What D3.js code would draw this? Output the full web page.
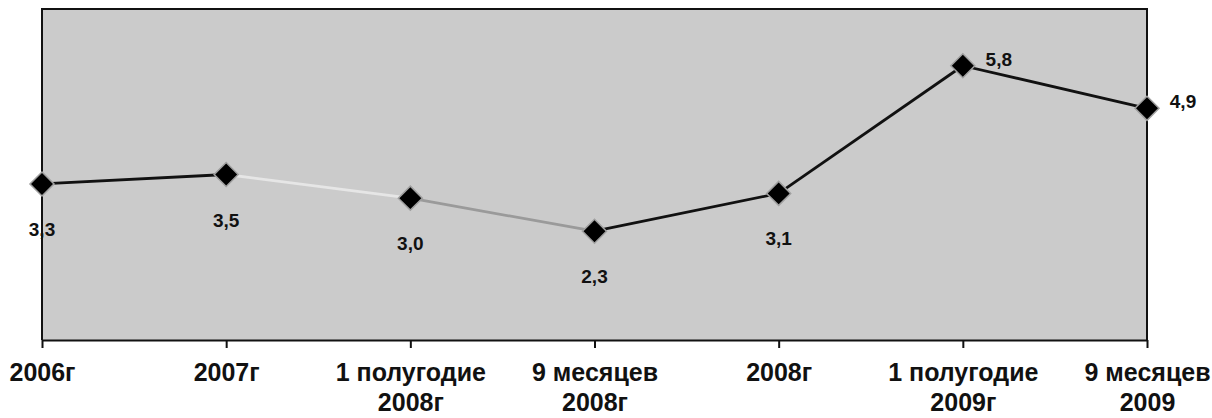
<!DOCTYPE html>
<html>
<head>
<meta charset="utf-8">
<script src="https://cdn.jsdelivr.net/npm/d3@7"></script>
<style>
  body { margin: 0; background: #fff; }
  svg { display: block; font-family: "Liberation Sans", Arial, sans-serif; }
</style>
</head>
<body>
<svg id="chart" width="1212" height="418"></svg>
<script>
// data
const categories = [
  ["2006г"], ["2007г"], ["1 полугодие", "2008г"], ["9 месяцев", "2008г"],
  ["2008г"], ["1 полугодие", "2009г"], ["9 месяцев", "2009"]
];
const values = [3.3, 3.5, 3.0, 2.3, 3.1, 5.8, 4.9];
const valueLabels = ["3,3", "3,5", "3,0", "2,3", "3,1", "5,8", "4,9"];
// scan makes two segments look faded
const segmentColors = ["#111", "#e6e6e6", "#9a9a9a", "#111", "#111", "#111"];

const margin = { top: 9, right: 65, bottom: 78, left: 42 };
const svg = d3.select("#chart");
const width = 1212 - margin.left - margin.right;
const height = 418 - margin.top - margin.bottom;

const x = d3.scalePoint().domain(d3.range(categories.length)).range([0, width]).padding(0);
const y = d3.scaleLinear().domain([0, 7]).range([height, 0]);

const g = svg.append("g").attr("transform", `translate(${margin.left}, ${margin.top})`);

g.append("rect")
  .attr("width", width).attr("height", height)
  .attr("fill", "#cbcbcb");

// frame: top, left, right
g.append("path")
  .attr("d", `M0,${height}V0H${width}V${height}`)
  .attr("fill", "none").attr("stroke", "#111").attr("stroke-width", 2);

// bottom axis
const xAxis = g.append("g")
  .attr("transform", `translate(0, ${height})`)
  .call(d3.axisBottom(x).tickSize(8).tickSizeOuter(0).tickFormat(""));
xAxis.select(".domain").attr("stroke", "#111").attr("stroke-width", 2);
xAxis.selectAll(".tick line").attr("stroke", "#111").attr("stroke-width", 2);

xAxis.selectAll(".tick").each(function (d) {
  const t = d3.select(this).append("text")
    .attr("fill", "#111")
    .attr("font-size", 25)
    .attr("font-weight", "bold")
    .attr("text-anchor", "middle");
  categories[d].forEach((line, i) => {
    t.append("tspan").attr("x", 0).attr("y", 41 + i * 30).text(line);
  });
});

// line segments
const pts = values.map((v, i) => [x(i), y(v)]);
for (let i = 0; i < pts.length - 1; i++) {
  g.append("path")
    .datum([pts[i], pts[i + 1]])
    .attr("fill", "none")
    .attr("stroke", segmentColors[i])
    .attr("stroke-width", 2.8)
    .attr("d", d3.line());
}

// markers
g.selectAll(".marker")
  .data(values)
  .join("path")
  .attr("class", "marker")
  .attr("transform", (d, i) => `translate(${x(i)}, ${y(d)}) rotate(45)`)
  .attr("d", "M-8.5,-8.5H8.5V8.5H-8.5Z")
  .attr("fill", "#000")
  .attr("stroke", "#a0a0a0")
  .attr("stroke-width", 1.5);

// value labels
g.selectAll(".vlabel")
  .data(values)
  .join("text")
  .attr("class", "vlabel")
  .attr("x", (d, i) => i >= 5 ? x(i) + 36 : x(i))
  .attr("y", (d, i) => i >= 5 ? y(d) : y(d) + 52)
  .attr("text-anchor", "middle")
  .attr("font-size", 19)
  .attr("font-weight", "bold")
  .attr("fill", "#111")
  .text((d, i) => valueLabels[i]);
</script>
</body>
</html>
